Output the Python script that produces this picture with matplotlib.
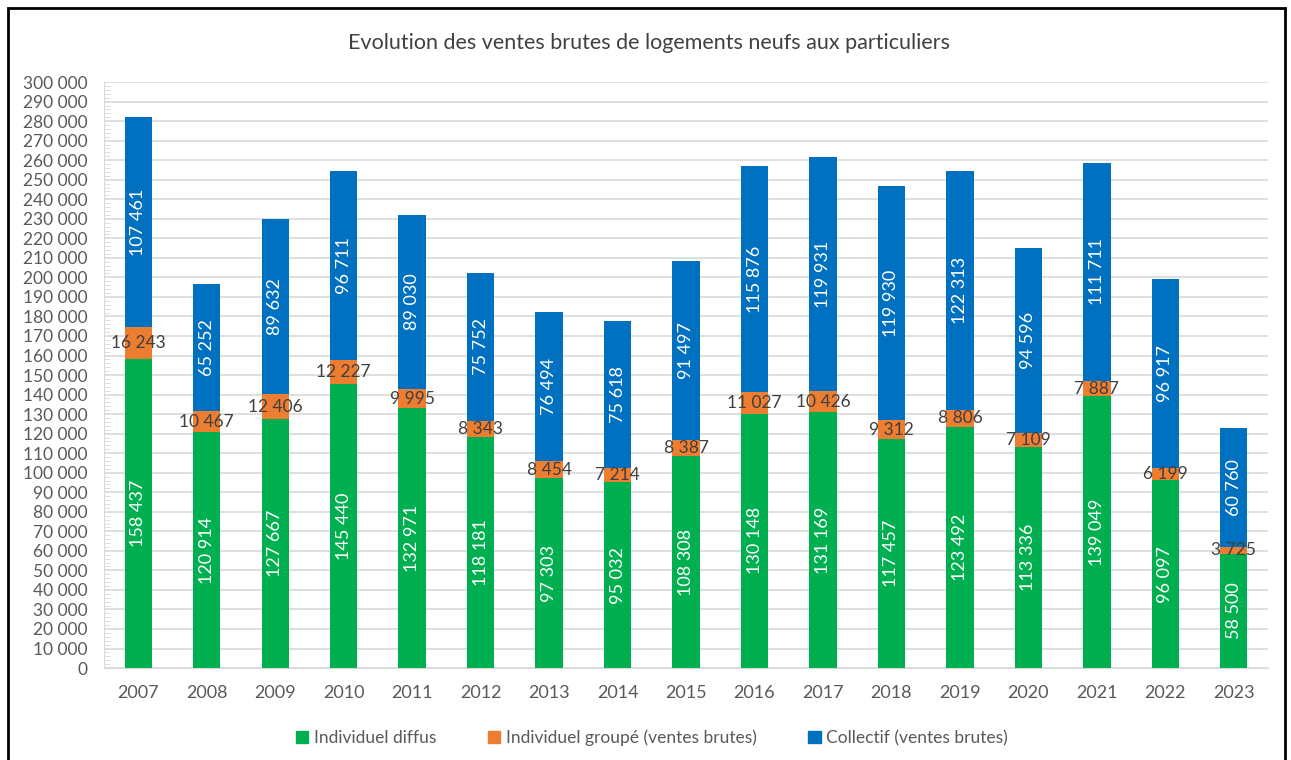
import matplotlib.pyplot as plt
from matplotlib.patches import Rectangle, Patch
from matplotlib.ticker import MultipleLocator, FuncFormatter

years = ['2007', '2008', '2009', '2010', '2011', '2012', '2013', '2014', '2015',
         '2016', '2017', '2018', '2019', '2020', '2021', '2022', '2023']
diffus = [158437, 120914, 127667, 145440, 132971, 118181, 97303, 95032, 108308,
          130148, 131169, 117457, 123492, 113336, 139049, 96097, 58500]
groupe = [16243, 10467, 12406, 12227, 9995, 8343, 8454, 7214, 8387,
          11027, 10426, 9312, 8806, 7109, 7887, 6199, 3725]
collectif = [107461, 65252, 89632, 96711, 89030, 75752, 76494, 75618, 91497,
             115876, 119931, 119930, 122313, 94596, 111711, 96917, 60760]

series_names = ['Individuel diffus', 'Individuel groupé (ventes brutes)', 'Collectif (ventes brutes)']
colors = ['#00B050', '#ED7D31', '#0070C0']

plt.rcParams['font.family'] = ['Lato', 'DejaVu Sans']


def fr(v):
    return f'{int(v):,}'.replace(',', ' ')


fig = plt.figure(figsize=(12.91, 7.60), dpi=100)
ax = fig.add_axes([0.0806, 0.121, 0.9016, 0.771])

x = range(len(years))
w = 0.4
bottom2 = [a + b for a, b in zip(diffus, groupe)]
ax.bar(x, diffus, w, color=colors[0], zorder=3)
ax.bar(x, groupe, w, bottom=diffus, color=colors[1], zorder=3)
ax.bar(x, collectif, w, bottom=bottom2, color=colors[2], zorder=3)

# labels: white rotated on green/blue, dark horizontal on orange
for i in x:
    ax.text(i, diffus[i] / 2, fr(diffus[i]), rotation=90, ha='center', va='center',
            color='white', fontsize=13, zorder=4)
    ax.text(i, diffus[i] + groupe[i] / 2, fr(groupe[i]), ha='center', va='center',
            color='#404040', fontsize=12.5, zorder=4)
    ax.text(i, bottom2[i] + collectif[i] / 2, fr(collectif[i]), rotation=90, ha='center',
            va='center', color='white', fontsize=13, zorder=4)

ax.set_ylim(0, 300000)
ax.set_xlim(-0.5, len(years) - 0.5)
ax.yaxis.set_major_locator(MultipleLocator(10000))
ax.yaxis.set_minor_locator(MultipleLocator(2000))
ax.yaxis.set_major_formatter(FuncFormatter(lambda v, p: fr(v)))
ax.set_xticks(list(x))
ax.set_xticklabels(years)
ax.grid(axis='y', color='#D9D9D9', linewidth=1.2, zorder=0)
for s in ['top', 'right']:
    ax.spines[s].set_visible(False)
ax.spines['left'].set_color('#D9D9D9')
ax.spines['bottom'].set_color('#D9D9D9')
ax.tick_params(axis='y', which='major', length=0, labelsize=12.5, labelcolor='#595959', pad=12)
ax.tick_params(axis='y', which='minor', direction='in', length=4, color='#D9D9D9')
ax.tick_params(axis='x', length=0, labelsize=13, labelcolor='#595959', pad=12)

fig.text(0.503, 0.944, 'Evolution des ventes brutes de logements neufs aux particuliers',
         ha='center', va='center', fontsize=15.5, color='#404040')

handles = [Patch(color=c) for c in colors]
fig.legend(handles, series_names, loc='center', bbox_to_anchor=(0.505, 0.029), ncol=3,
           frameon=False, fontsize=12.5, labelcolor='#595959', handlelength=0.7,
           handleheight=0.7, handletextpad=0.3, columnspacing=3.0)

fig.add_artist(Rectangle((0.0065, -0.01), 0.989, 0.999, transform=fig.transFigure,
                         fill=False, edgecolor='black', linewidth=2))

fig.savefig('out.png', dpi=100)
